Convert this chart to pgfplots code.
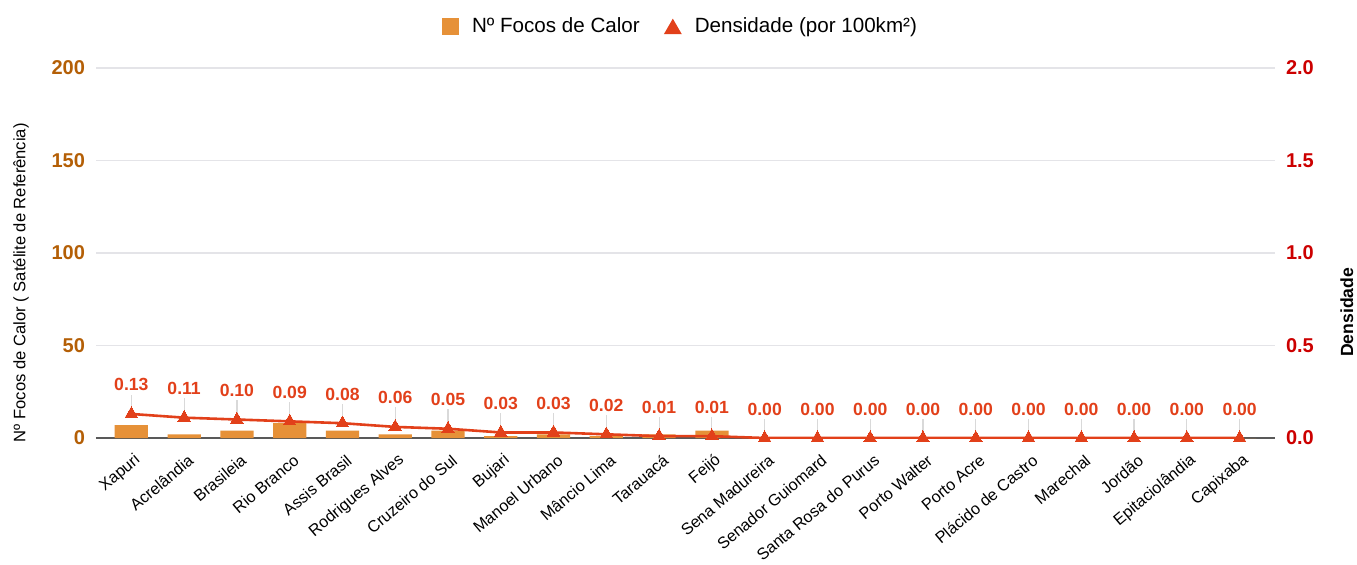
\documentclass[border=0pt]{standalone}
\usepackage{pgfplots}
\pgfplotsset{compat=1.18}
\usepackage{fontspec}
\setmainfont{Liberation Sans}
\definecolor{barc}{HTML}{E69138}
\definecolor{linec}{HTML}{E2401A}
\definecolor{lefttick}{HTML}{B45F06}
\definecolor{righttick}{HTML}{CC0000}
\definecolor{gridc}{HTML}{E4E4E8}
\begin{document}
\begin{tikzpicture}
\pgfplotstableread{
x focos dens
0 7 0.13
1 2 0.11
2 4 0.10
3 8 0.09
4 4 0.08
5 2 0.06
6 4 0.05
7 1 0.03
8 2 0.03
9 1 0.02
10 2 0.01
11 4 0.01
12 0 0.00
13 0 0.00
14 0 0.00
15 0 0.00
16 0 0.00
17 0 0.00
18 0 0.00
19 0 0.00
20 0 0.00
21 0 0.00
}\data
\begin{axis}[
  width=589.5pt, height=185pt, scale only axis,
  at={(0pt,0pt)}, anchor=south west,
  xmin=-0.67, xmax=21.67,
  ymin=0, ymax=200,
  ytick={0,50,100,150,200},
  xtick=data,
  xticklabels={Xapuri,Acrelândia,Brasileia,Rio Branco,Assis Brasil,Rodrigues Alves,Cruzeiro do Sul,Bujari,Manoel Urbano,Mâncio Lima,Tarauacá,Feijó,Sena Madureira,Senador Guiomard,Santa Rosa do Purus,Porto Walter,Porto Acre,Plácido de Castro,Marechal,Jordão,Epitaciolândia,Capixaba},
  xticklabel style={font=\fontsize{8.1}{10}\selectfont, inner sep=0pt, xshift=3.5pt, yshift=-10pt, rotate=40, anchor=east},
  yticklabel style={font=\fontsize{10}{12}\selectfont\bfseries, text=lefttick, xshift=-2pt},
  /pgf/number format/assume math mode=true,
  major tick length=0pt,
  axis x line*=bottom, axis y line*=left,
  y axis line style={draw=none},
  x axis line style={draw=black!65, line width=0.8pt, -},
  ymajorgrids, grid style={draw=gridc, line width=0.6pt},
  ylabel={Nº Focos de Calor ( Satélite de Referência)},
  every axis y label/.style={at={(axis description cs:-0.0636,0.42)}, anchor=center, rotate=90, font=\fontsize{8.3}{10}\selectfont},
]
\addplot[ybar, bar width=0.63, fill=barc, draw=none] table[x=x, y=focos] {\data};
\end{axis}
\begin{axis}[
  width=589.5pt, height=185pt, scale only axis,
  at={(0pt,0pt)}, anchor=south west,
  xmin=-0.67, xmax=21.67,
  ymin=0, ymax=2,
  ytick={0,0.5,1,1.5,2},
  yticklabel style={/pgf/number format/.cd, fixed, fixed zerofill, precision=1, /tikz/.cd, font=\fontsize{10}{12}\selectfont\bfseries, text=righttick, xshift=2pt},
  /pgf/number format/assume math mode=true,
  major tick length=0pt,
  axis y line*=right, axis x line=none,
  y axis line style={draw=none},
  ylabel={Densidade},
  every axis y label/.style={at={(axis description cs:1.061,0.34)}, anchor=center, rotate=90, font=\fontsize{8.8}{10}\selectfont\bfseries},
  legend style={at={(0.5,1)}, anchor=south, yshift=12pt, xshift=-2pt, draw=none, fill=none, legend columns=2, font=\fontsize{10.3}{12}\selectfont, /tikz/every even column/.append style={column sep=10pt}},
]
\addlegendimage{legend image code/.code={\fill[barc, draw=none] (0pt,-4.25pt) rectangle (8.5pt,4.25pt); \path[draw=none, fill=none] (0pt,0pt) -- (13pt,0pt);}}
\addlegendentry{Nº Focos de Calor}
\addlegendimage{legend image code/.code={\fill[linec, draw=none] (0pt,-3.8pt) -- (9pt,-3.8pt) -- (4.5pt,4pt) -- cycle; \path[draw=none, fill=none] (0pt,0pt) -- (13.5pt,0pt);}}
\addlegendentry{Densidade (por 100km²)}
\addplot[forget plot, draw=none, mark=none,
  error bars/.cd, y dir=plus, y fixed=0.105, error mark=none, error bar style={draw=black!15, line width=0.6pt}]
  table[x=x, y=dens] {\data};
\addplot[forget plot, draw=linec, line width=1.3pt, mark=triangle*, mark size=3.6pt, mark options={fill=linec, draw=linec, line width=0pt},
  nodes near coords, point meta=explicit,
  nodes near coords style={font=\fontsize{8.8}{10}\selectfont\bfseries, text=linec, anchor=center, yshift=14.5pt, /pgf/number format/.cd, fixed, fixed zerofill, precision=2, assume math mode=true}]
  table[x=x, y=dens, meta=dens] {\data};
\end{axis}
\pgfresetboundingbox
\path[use as bounding box] (-48pt,-63pt) rectangle (630.5pt,219pt);
\end{tikzpicture}
\end{document}
